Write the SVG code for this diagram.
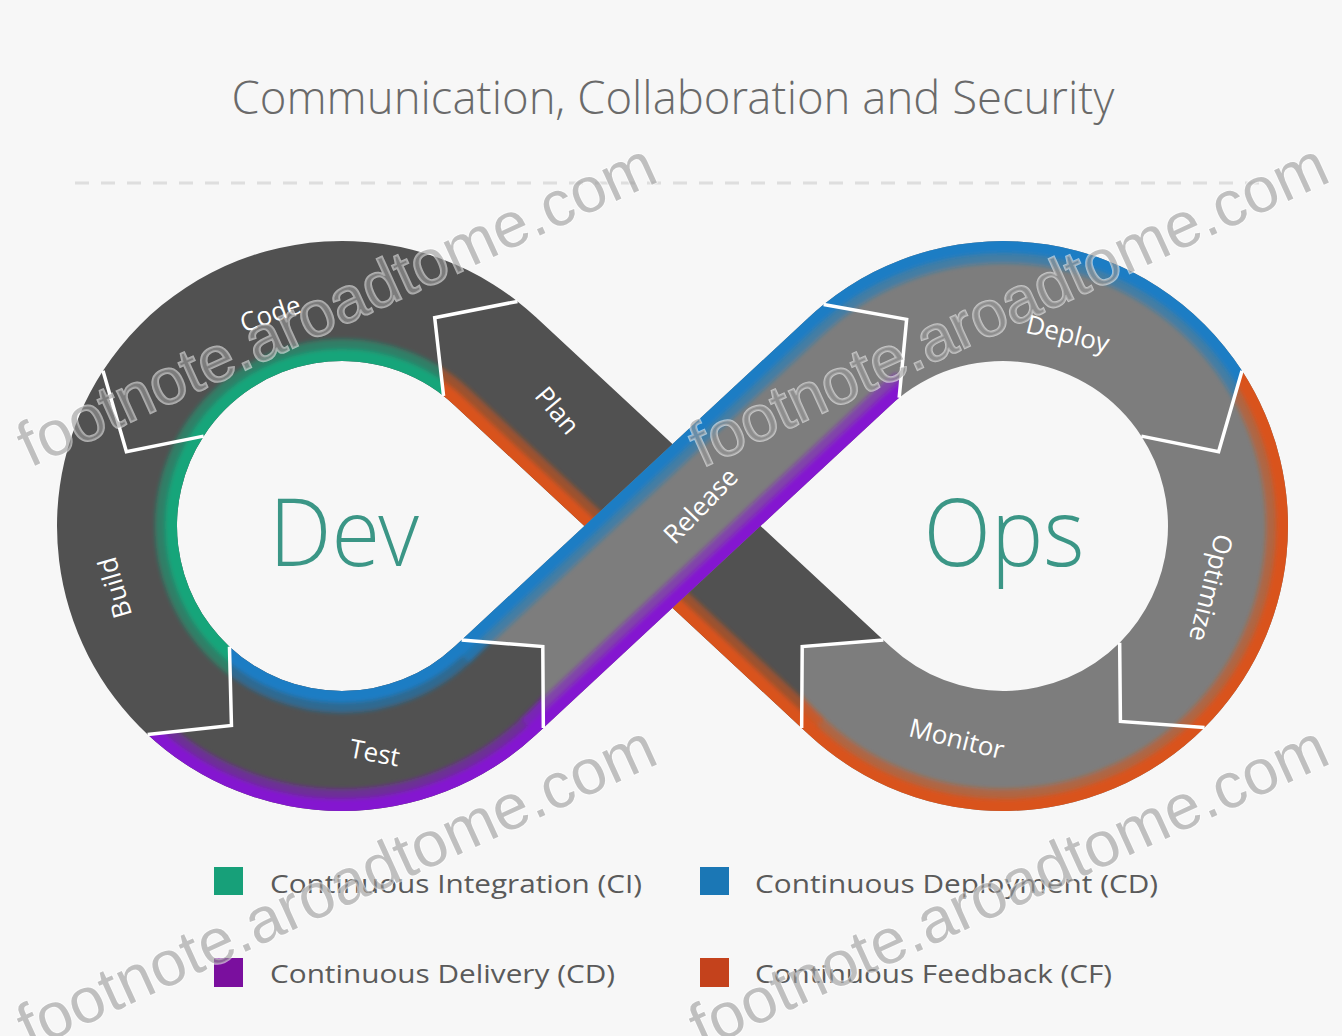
<svg xmlns="http://www.w3.org/2000/svg" width="1342" height="1036" viewBox="0 0 1342 1036">
<style>
.bg{fill:#f7f7f7}
.dark{fill:#515151}
.light{fill:#7d7d7d}
.lbl{font-family:"Open Sans","Noto Sans","Liberation Sans",sans-serif;font-size:26px;fill:#ffffff;text-anchor:middle;dominant-baseline:central}
.big{font-family:"Open Sans Light","Lato Light","Open Sans","Lato","Liberation Sans",sans-serif;font-weight:300;font-size:94px;fill:#3b9686;text-anchor:middle}
.title{font-family:"Open Sans Light","Open Sans","Noto Sans","Liberation Sans",sans-serif;font-weight:300;font-size:46px;fill:#6a6a6a;text-anchor:middle}
.leg{font-family:"Open Sans","Noto Sans","Liberation Sans",sans-serif;font-size:25px;fill:#5a5a5a}
.e1{fill:none;stroke-width:44;stroke-opacity:.55}
.e2{fill:none;stroke-width:24}
.ci{stroke:#14a57a}
.cdp{stroke:#1a7dc4}
.cdl{stroke:#8416d0}
.cf{stroke:#d9521a}
.w{fill:none;stroke:#ffffff;stroke-width:3.5;stroke-linejoin:miter}
.wm{font-family:"Liberation Sans",Arial,sans-serif;font-size:64px;fill:#9a9a9a;fill-opacity:.6;stroke:#ffffff;stroke-opacity:.55;stroke-width:2;paint-order:stroke}
</style>
<defs>
<filter id="soft" filterUnits="userSpaceOnUse" x="0" y="0" width="1342" height="1036"><feGaussianBlur stdDeviation="2.2"/></filter>
<path id="p-plan" d="M883.35,640.05 L536.02,317.24 A285 285 0 0 0 517.46,301.42 L434.7,317.7 L443.58,395.98 A165 165 0 0 1 454.33,405.14 L801.66,727.95 L802.21,646.56 Z"/>
<path id="p-code" d="M517.46,301.42 A285 285 0 0 0 102.98,370.78 L126.42,451.77 L203.62,436.13 A165 165 0 0 1 443.58,395.98 L434.7,317.7 Z"/>
<path id="p-build" d="M102.98,370.78 A285 285 0 0 0 147.63,734.43 L231.46,725.41 L229.47,646.67 A165 165 0 0 1 203.62,436.13 L126.42,451.77 Z"/>
<path id="p-test" d="M147.63,734.43 A285 285 0 0 0 536.02,734.76 L543.34,727.95 L542.79,646.56 L461.65,640.05 L454.33,646.86 A165 165 0 0 1 229.47,646.67 L231.46,725.41 Z"/>
<path id="p-release" d="M543.34,727.95 L890.67,405.14 A165 165 0 0 1 899.16,397.77 L906.64,319.36 L823.64,304.51 A285 285 0 0 0 808.98,317.24 L461.65,640.05 L542.79,646.56 Z"/>
<path id="p-deploy" d="M899.16,397.77 A165 165 0 0 1 1141.38,436.13 L1218.58,451.77 L1242.02,370.78 A285 285 0 0 0 823.64,304.51 L906.64,319.36 Z"/>
<path id="p-optimize" d="M1141.38,436.13 A165 165 0 0 1 1119.67,642.67 L1120.43,721.43 L1204.53,727.53 A285 285 0 0 0 1242.02,370.78 L1218.58,451.77 Z"/>
<path id="p-monitor" d="M1119.67,642.67 A165 165 0 0 1 890.67,646.86 L883.35,640.05 L802.21,646.56 L801.66,727.95 L808.98,734.76 A285 285 0 0 0 1204.53,727.53 L1120.43,721.43 Z"/>
<clipPath id="c-plan"><use href="#p-plan"/></clipPath>
<clipPath id="c-code"><use href="#p-code"/></clipPath>
<clipPath id="c-build"><use href="#p-build"/></clipPath>
<clipPath id="c-test"><use href="#p-test"/></clipPath>
<clipPath id="c-release"><use href="#p-release"/></clipPath>
<clipPath id="c-deploy"><use href="#p-deploy"/></clipPath>
<clipPath id="c-optimize"><use href="#p-optimize"/></clipPath>
<clipPath id="c-monitor"><use href="#p-monitor"/></clipPath>
</defs>

<rect class="bg" x="0" y="0" width="1342" height="1036"/>

<g id="title">
<text class="title" x="673" y="114" textLength="883" lengthAdjust="spacingAndGlyphs">Communication, Collaboration and Security</text>
<line x1="75" y1="183" x2="1265" y2="183" stroke="#dedede" stroke-width="3" stroke-dasharray="14 12"/>
</g>

<g id="node-plan">
<use href="#p-plan" class="dark"/>
<g clip-path="url(#c-plan)"><g filter="url(#soft)" class="cf">
<path class="e1" d="M827.3,751.8 L454.33,405.14 A165 165 0 0 0 424.5,383.1"/>
<path class="e2" d="M827.3,751.8 L454.33,405.14 A165 165 0 0 0 424.5,383.1"/>
</g></g>
<text class="lbl" transform="translate(558,410) rotate(50)">Plan</text>
</g>

<g id="node-code">
<use href="#p-code" class="dark"/>
<g clip-path="url(#c-code)"><g filter="url(#soft)" class="ci">
<circle class="e1" cx="342" cy="526" r="165"/>
<circle class="e2" cx="342" cy="526" r="165"/>
</g></g>
<text class="lbl" transform="translate(270,313) rotate(-19)">Code</text>
</g>

<g id="node-build">
<use href="#p-build" class="dark"/>
<g clip-path="url(#c-build)"><g filter="url(#soft)" class="ci">
<circle class="e1" cx="342" cy="526" r="165"/>
<circle class="e2" cx="342" cy="526" r="165"/>
</g></g>
<text class="lbl" transform="translate(114,588) rotate(-106)">Build</text>
</g>

<g id="node-test">
<use href="#p-test" class="dark"/>
<g clip-path="url(#c-test)">
<g filter="url(#soft)" class="cdp">
<circle class="e1" cx="342" cy="526" r="165"/>
<circle class="e2" cx="342" cy="526" r="165"/>
<path class="e1" d="M454.33,646.86 L476.3,626.4"/>
<path class="e2" d="M454.33,646.86 L476.3,626.4"/>
</g>
<g filter="url(#soft)" class="cdl">
<circle class="e1" cx="342" cy="526" r="285"/>
<circle class="e2" cx="342" cy="526" r="285"/>
<path class="e1" d="M536.02,734.76 L558,714.3"/>
<path class="e2" d="M536.02,734.76 L558,714.3"/>
</g>
</g>
<text class="lbl" transform="translate(375,752) rotate(11)">Test</text>
</g>

<g id="node-deploy">
<use href="#p-deploy" class="light"/>
<g clip-path="url(#c-deploy)"><g filter="url(#soft)" class="cdp">
<circle class="e1" cx="1003" cy="526" r="285"/>
<circle class="e2" cx="1003" cy="526" r="285"/>
</g></g>
<text class="lbl" transform="translate(1068,333) rotate(14)">Deploy</text>
</g>

<g id="node-optimize">
<use href="#p-optimize" class="light"/>
<g clip-path="url(#c-optimize)"><g filter="url(#soft)" class="cf">
<circle class="e1" cx="1003" cy="526" r="285"/>
<circle class="e2" cx="1003" cy="526" r="285"/>
</g></g>
<text class="lbl" transform="translate(1212,588) rotate(104)">Optimize</text>
</g>

<g id="node-monitor">
<use href="#p-monitor" class="light"/>
<g clip-path="url(#c-monitor)"><g filter="url(#soft)" class="cf">
<circle class="e1" cx="1003" cy="526" r="285"/>
<circle class="e2" cx="1003" cy="526" r="285"/>
<path class="e1" d="M808.98,734.76 L787,714.3"/>
<path class="e2" d="M808.98,734.76 L787,714.3"/>
</g></g>
<text class="lbl" transform="translate(957,738) rotate(14)">Monitor</text>
</g>

<g id="node-release">
<use href="#p-release" class="light"/>
<g clip-path="url(#c-release)">
<g filter="url(#soft)" class="cdp">
<path class="e1" d="M439.7,660.5 L808.98,317.24 A285 285 0 0 1 843.6,289.7"/>
<path class="e2" d="M439.7,660.5 L808.98,317.24 A285 285 0 0 1 843.6,289.7"/>
</g>
<g filter="url(#soft)" class="cdl">
<path class="e1" d="M521.4,748.4 L890.67,405.14 A165 165 0 0 1 908.4,390.8"/>
<path class="e2" d="M521.4,748.4 L890.67,405.14 A165 165 0 0 1 908.4,390.8"/>
</g>
</g>
<text class="lbl" transform="translate(700,505) rotate(-46)">Release</text>
</g>

<g id="connectors">
<polyline class="w" points="883.35,640.05 802.21,646.56 801.66,727.95"/>
<polyline class="w" points="517.46,301.42 434.7,317.7 443.58,395.98"/>
<polyline class="w" points="102.98,370.78 126.42,451.77 203.62,436.13"/>
<polyline class="w" points="147.63,734.43 231.46,725.41 229.47,646.67"/>
<polyline class="w" points="543.34,727.95 542.79,646.56 461.65,640.05"/>
<polyline class="w" points="899.16,397.77 906.64,319.36 823.64,304.51"/>
<polyline class="w" points="1141.38,436.13 1218.58,451.77 1242.02,370.78"/>
<polyline class="w" points="1119.67,642.67 1120.43,721.43 1204.53,727.53"/>
</g>

<g id="node-dev"><text class="big" x="344" y="566" textLength="150" lengthAdjust="spacingAndGlyphs">Dev</text></g>
<g id="node-ops"><text class="big" x="1004" y="566" textLength="161" lengthAdjust="spacingAndGlyphs">Ops</text></g>

<g id="legend">
<rect x="214" y="867" width="29" height="28" fill="#17a079"/>
<text class="leg" x="270" y="893" textLength="372" lengthAdjust="spacingAndGlyphs">Continuous Integration (CI)</text>
<rect x="700" y="867" width="29" height="28" fill="#1b77b5"/>
<text class="leg" x="755" y="893" textLength="403" lengthAdjust="spacingAndGlyphs">Continuous Deployment (CD)</text>
<rect x="214" y="958" width="29" height="29" fill="#7a0f9e"/>
<text class="leg" x="270" y="983" textLength="345" lengthAdjust="spacingAndGlyphs">Continuous Delivery (CD)</text>
<rect x="700" y="958" width="29" height="29" fill="#c4421c"/>
<text class="leg" x="755" y="983" textLength="357" lengthAdjust="spacingAndGlyphs">Continuous Feedback (CF)</text>
</g>

<g id="watermark">
<text class="wm" transform="translate(30,468) rotate(-24.5)" textLength="693" lengthAdjust="spacingAndGlyphs">footnote.aroadtome.com</text>
<text class="wm" transform="translate(702,468) rotate(-24.5)" textLength="693" lengthAdjust="spacingAndGlyphs">footnote.aroadtome.com</text>
<text class="wm" transform="translate(30,1050) rotate(-24.5)" textLength="693" lengthAdjust="spacingAndGlyphs">footnote.aroadtome.com</text>
<text class="wm" transform="translate(702,1050) rotate(-24.5)" textLength="693" lengthAdjust="spacingAndGlyphs">footnote.aroadtome.com</text>
</g>
</svg>
